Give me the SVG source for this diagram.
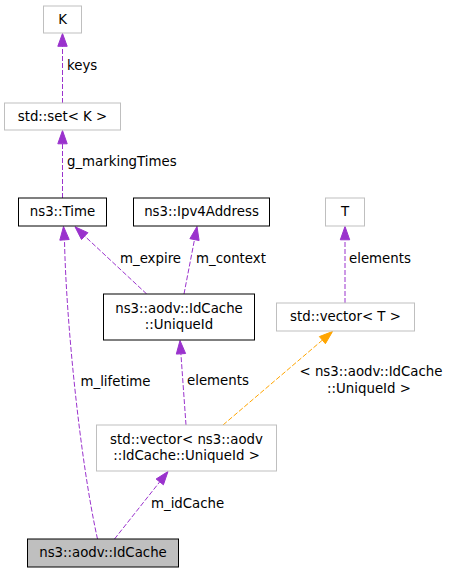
<svg xmlns="http://www.w3.org/2000/svg" width="449" height="573" viewBox="0 0 449 573">
<style>
text{font-family:"DejaVu Sans","Liberation Sans",sans-serif;font-size:13.33px;fill:#000}
.n text{text-anchor:middle}
.doc{fill:#fff;stroke:#000;stroke-width:1}
.undoc{fill:#fff;stroke:#bfbfbf;stroke-width:1}
.cur{fill:#bfbfbf;stroke:#000;stroke-width:1}
.e{fill:none;stroke:#9a32cd;stroke-width:1;stroke-dasharray:5,2}
.ea{fill:#9a32cd;stroke:#9a32cd;stroke-width:1}
.t{fill:none;stroke:#ffa500;stroke-width:1;stroke-dasharray:5,2}
.ta{fill:#ffa500;stroke:#ffa500;stroke-width:1}
</style>
<rect width="449" height="573" fill="#fff"/>
<g id="connectors">
  <g id="e_set_K">
    <path class="e" d="M62.5,103 L62.5,46.3"/>
    <polygon class="ea" points="57.8,46.3 62.5,33.5 67.2,46.3"/>
    <text x="67" y="70">keys</text>
  </g>
  <g id="e_Time_set">
    <path class="e" d="M62.5,198 L62.5,143.8"/>
    <polygon class="ea" points="57.8,143.8 62.5,130.5 67.2,143.8"/>
    <text x="67" y="166">g_markingTimes</text>
  </g>
  <g id="e_UniqueId_Time">
    <path class="e" d="M146.7,294 L84.7,236.1"/>
    <polygon class="ea" points="87.9,232.7 75,226.8 81.5,239.5"/>
    <text x="120" y="263">m_expire</text>
  </g>
  <g id="e_UniqueId_Ipv4">
    <path class="e" d="M184,294 L194.5,239.6"/>
    <polygon class="ea" points="199.1,240.5 197,226.5 189.9,238.7"/>
    <text x="196" y="263">m_context</text>
  </g>
  <g id="e_IdCache_Time">
    <path class="e" d="M97.5,539 C80,460 66,320 64.5,240"/>
    <polygon class="ea" points="69.2,239.5 63.5,226.5 59.8,240.2"/>
    <text x="80.5" y="386">m_lifetime</text>
  </g>
  <g id="e_vec_UniqueId">
    <path class="e" d="M186,425 L180.9,353.8"/>
    <polygon class="ea" points="185.6,353.5 180,340.5 176.3,354.1"/>
    <text x="187" y="385">elements</text>
  </g>
  <g id="e_vec_vecT">
    <path class="t" d="M223,425 L322.4,340.1"/>
    <polygon class="ta" points="325.4,343.7 332.5,331.5 319.4,336.6"/>
    <text x="371" y="376" text-anchor="middle">&lt; ns3::aodv::IdCache</text>
    <text x="369" y="393" text-anchor="middle">::UniqueId &gt;</text>
  </g>
  <g id="e_vecT_T">
    <path class="e" d="M345,303 L345,239.8"/>
    <polygon class="ea" points="340.3,239.8 345,226.5 349.7,239.8"/>
    <text x="349" y="263">elements</text>
  </g>
  <g id="e_IdCache_vec">
    <path class="e" d="M114.5,539 L159.7,481.9"/>
    <polygon class="ea" points="163.4,484.8 168,471.5 156.1,479.0"/>
    <text x="151" y="508">m_idCache</text>
  </g>
</g>
<g class="n" id="node_K">
  <rect class="undoc" x="43.5" y="6" width="38" height="27"/>
  <text x="62.5" y="24">K</text>
</g>
<g class="n" id="node_set">
  <rect class="undoc" x="4.5" y="103" width="116" height="27"/>
  <text x="62.5" y="121">std::set&lt; K &gt;</text>
</g>
<g class="n" id="node_Time">
  <rect class="doc" x="18.5" y="198" width="88" height="28"/>
  <text x="62.5" y="216">ns3::Time</text>
</g>
<g class="n" id="node_Ipv4">
  <rect class="doc" x="133.5" y="198" width="136" height="28"/>
  <text x="201.5" y="216">ns3::Ipv4Address</text>
</g>
<g class="n" id="node_T">
  <rect class="undoc" x="325.5" y="198" width="39" height="28"/>
  <text x="345" y="216">T</text>
</g>
<g class="n" id="node_UniqueId">
  <rect class="doc" x="103.5" y="294" width="151" height="46"/>
  <text x="179" y="313">ns3::aodv::IdCache</text>
  <text x="179" y="329">::UniqueId</text>
</g>
<g class="n" id="node_vecT">
  <rect class="undoc" x="276.5" y="303" width="138" height="28"/>
  <text x="345.5" y="321">std::vector&lt; T &gt;</text>
</g>
<g class="n" id="node_vecUniqueId">
  <rect class="undoc" x="96.5" y="425" width="180" height="46"/>
  <text x="186.5" y="443.5">std::vector&lt; ns3::aodv</text>
  <text x="186.5" y="459.5">::IdCache::UniqueId &gt;</text>
</g>
<g class="n" id="node_IdCache">
  <rect class="cur" x="27.5" y="539" width="151" height="28"/>
  <text x="103" y="557">ns3::aodv::IdCache</text>
</g>
</svg>
